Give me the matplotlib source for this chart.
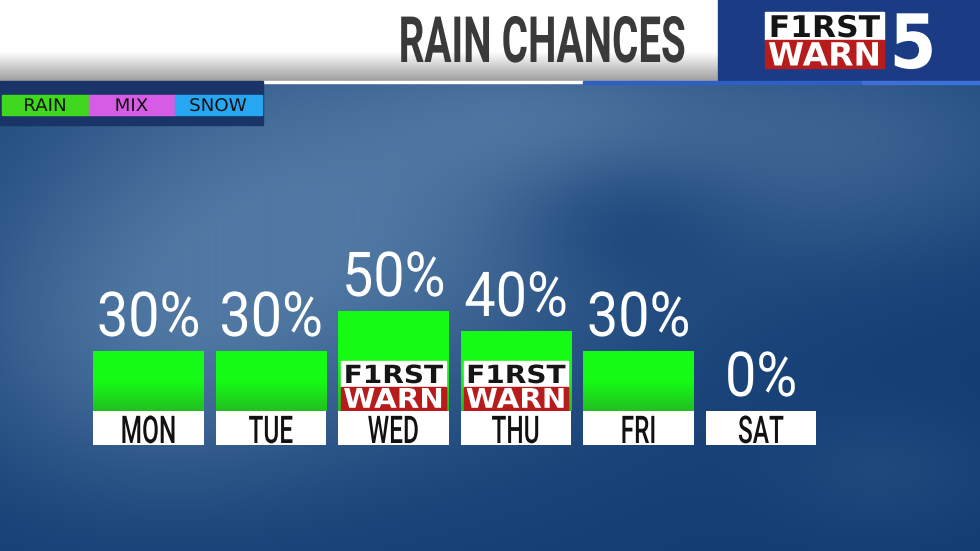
"""Weekly rain chances graphic in the broadcast style."""

import matplotlib

matplotlib.use("Agg")
import matplotlib.pyplot as plt
import numpy as np
from matplotlib.colors import LinearSegmentedColormap
from matplotlib.patches import Rectangle
from matplotlib.patheffects import AbstractPathEffect
from matplotlib.transforms import Affine2D

DAYS = ["MON", "TUE", "WED", "THU", "FRI", "SAT"]
CHANCES = [30, 30, 50, 40, 30, 0]
FIRST_WARN_DAYS = ["WED", "THU"]
LEGEND_LABELS = ["RAIN", "MIX", "SNOW"]
LEGEND_COLORS = ["#3fd81f", "#d65ce6", "#27a6f2"]
TITLE = "RAIN CHANCES"

W, H = 980, 551
RED = "#b71b1b"


class Squeeze(AbstractPathEffect):
    """Scale glyph outlines horizontally, like a condensed broadcast font."""

    def __init__(self, sx, anchor=0.5):
        super().__init__()
        self.sx = sx
        self.anchor = anchor

    def draw_path(self, renderer, gc, tpath, affine, rgbFace=None):
        ext = tpath.get_extents()
        cx = ext.x0 + self.anchor * ext.width
        squeeze = Affine2D().translate(-cx, 0).scale(self.sx, 1).translate(cx, 0)
        renderer.draw_path(gc, tpath, squeeze + affine, rgbFace)


def sky():
    yy, xx = np.mgrid[0:H, 0:W].astype(float)
    dark = np.array([0x12, 0x3c, 0x73]) / 255
    light = np.array([0x50, 0x78, 0xa3]) / 255

    def blob(cx, cy, rx, ry, amp):
        return amp * np.exp(-(((xx - cx) / rx) ** 2 + ((yy - cy) / ry) ** 2))

    glow = (blob(330, 210, 330, 220, 0.95) + blob(860, 140, 230, 120, 0.55)
            + blob(130, 360, 200, 150, 0.45) + blob(560, 110, 170, 70, 0.35)
            + blob(880, 470, 110, 60, 0.2) - blob(620, 220, 110, 70, 0.3))
    glow = np.clip(glow, 0, 1)
    return dark + (light - dark) * glow[..., None]


def main() -> None:
    fig = plt.figure(figsize=(W / 100, H / 100), dpi=100)
    bg = fig.add_axes([0, 0, 1, 1])
    bg.set_xlim(0, W)
    bg.set_ylim(H, 0)
    bg.axis("off")
    bg.imshow(sky(), extent=(0, W, H, 0), aspect="auto", zorder=0)

    # header band
    rows = np.linspace(0, 81, 82)
    shade = np.where(rows < 52, 1.0, 1.0 - (rows - 52) / 29 * 0.38)
    bg.imshow(shade[:, None], extent=(0, 718, 81, 0), cmap="gray", vmin=0, vmax=1,
              aspect="auto", zorder=1)
    bg.add_patch(Rectangle((718, 0), 262, 82, color="#1b3c85", zorder=1))
    bg.add_patch(Rectangle((262, 80.5), 321, 2.5, color="white", zorder=2))
    bg.add_patch(Rectangle((583, 81), 279, 2.5, color="#2f5fc2", zorder=2))
    bg.add_patch(Rectangle((862, 80.5), 118, 3, color="#3d70d8", zorder=2))
    bg.text(686, 62, TITLE, ha="right", va="baseline", fontsize=46,
            family="Roboto", weight="bold", color="#3a3a3a",
            path_effects=[Squeeze(0.63, anchor=1.0)], zorder=3)

    # station logo
    bg.add_patch(Rectangle((765, 12), 119, 28, color="white", zorder=2))
    bg.add_patch(Rectangle((765, 40), 119, 28, color=RED, zorder=2))
    bg.text(824.5, 37, "F1RST", ha="center", va="baseline", fontsize=21.5,
            weight="heavy", color="#151515", path_effects=[Squeeze(1.05)], zorder=3)
    bg.text(824.5, 65.5, "WARN", ha="center", va="baseline", fontsize=23,
            weight="bold", color="white", path_effects=[Squeeze(1.03)], zorder=3)
    bg.text(913, 68, "5", ha="center", va="baseline", fontsize=54, weight="bold",
            color="white", path_effects=[Squeeze(0.9)], zorder=3)

    # precip type legend
    bg.add_patch(Rectangle((0, 81), 263, 44, color="#1a3467", zorder=2))
    left = 2
    for label, colour in zip(LEGEND_LABELS, LEGEND_COLORS):
        bg.add_patch(Rectangle((left, 95), 86.5, 19.5, color=colour, zorder=3))
        bg.text(left + 43, 111, label, ha="center", va="baseline", fontsize=12.5,
                color="#111111", path_effects=[Squeeze(1.05)], zorder=4)
        left += 86.5

    # bars
    ax = fig.add_axes([87.25 / W, (H - 411) / H, 735 / W, 200 / H])
    x = np.arange(len(DAYS))
    bars = ax.bar(x, CHANCES, width=0.906, color="#15fb15", zorder=2)
    fade = LinearSegmentedColormap.from_list("fade", ["#22c022", "#15fb15", "#15fb15"])
    for bar in bars:
        h = bar.get_height()
        if h > 0:
            ax.imshow(np.linspace(0, 1, 64)[:, None], cmap=fade, origin="lower",
                      extent=(bar.get_x(), bar.get_x() + bar.get_width(), 0, h),
                      aspect="auto", zorder=3)
    ax.bar(x, 17, bottom=-17, width=0.906, color="white", clip_on=False, zorder=3)
    for i, (day, chance) in enumerate(zip(DAYS, CHANCES)):
        ax.text(i, -16, day, ha="center", va="baseline", fontsize=27.5, family="Roboto",
                weight="medium", color="#111111", path_effects=[Squeeze(0.64)], zorder=5)
        ax.text(i, chance + 7.5, f"{chance}%", ha="center", va="baseline",
                fontsize=44.6, family="Roboto", color="white",
                path_effects=[Squeeze(0.9)], zorder=5)
        if day in FIRST_WARN_DAYS:
            bar = bars[i]
            x0 = bar.get_x() + 0.027
            w = bar.get_width() - 0.054
            ax.add_patch(Rectangle((x0, 12), w, 13, color="white", zorder=4))
            ax.add_patch(Rectangle((x0, 0.3), w, 11.7, color=RED, zorder=4))
            ax.text(i, 14.0, "F1RST", ha="center", va="baseline", fontsize=18,
                    weight="heavy", color="#151515", path_effects=[Squeeze(1.12)], zorder=5)
            ax.text(i, 1.6, "WARN", ha="center", va="baseline", fontsize=19.5,
                    weight="bold", color="white", path_effects=[Squeeze(1.08)], zorder=5)
    ax.set_xlim(-0.5, len(DAYS) - 0.5)
    ax.set_ylim(0, 100)
    ax.axis("off")

    fig.savefig("out.png", dpi=100)
    plt.close(fig)


if __name__ == "__main__":
    main()
